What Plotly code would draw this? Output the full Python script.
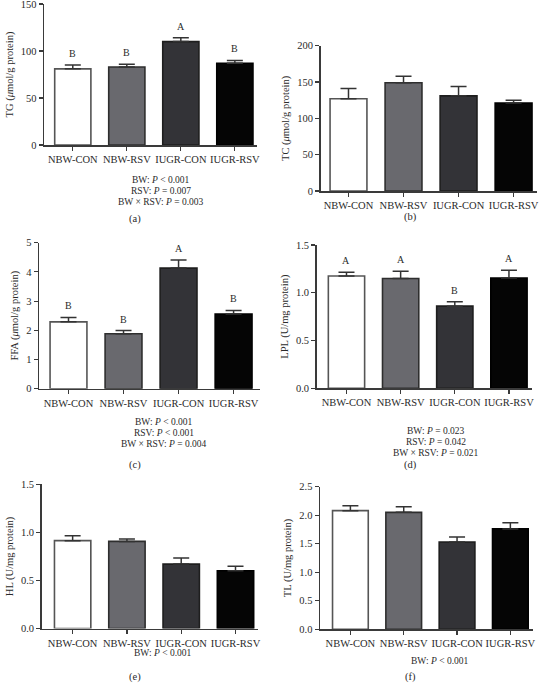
import plotly.graph_objects as go

W, H = 541, 686

categories = ["NBW-CON", "NBW-RSV", "IUGR-CON", "IUGR-RSV"]

# Panel (a) TG
tg_mean = [81, 83, 110, 87]
tg_err = [4, 3, 4, 3]
tg_letters = ["B", "B", "A", "B"]
tg_ticks = [0, 50, 100, 150]

# Panel (b) TC
tc_mean = [127, 149, 131, 121]
tc_err = [14, 9, 13, 4]
tc_letters = ["", "", "", ""]
tc_ticks = [0, 50, 100, 150, 200]

# Panel (c) FFA
ffa_mean = [2.29, 1.88, 4.13, 2.56]
ffa_err = [0.15, 0.11, 0.28, 0.12]
ffa_letters = ["B", "B", "A", "B"]
ffa_ticks = [0, 1, 2, 3, 4, 5]

# Panel (d) LPL
lpl_mean = [1.175, 1.15, 0.86, 1.155]
lpl_err = [0.04, 0.075, 0.045, 0.08]
lpl_letters = ["A", "A", "B", "A"]
lpl_ticks = [0.0, 0.5, 1.0, 1.5]

# Panel (e) HL
hl_mean = [0.914, 0.906, 0.67, 0.60]
hl_err = [0.052, 0.025, 0.063, 0.047]
hl_letters = ["", "", "", ""]
hl_ticks = [0.0, 0.5, 1.0, 1.5]

# Panel (f) TL
tl_mean = [2.08, 2.05, 1.53, 1.76]
tl_err = [0.085, 0.10, 0.09, 0.11]
tl_letters = ["", "", "", ""]
tl_ticks = [0.0, 0.5, 1.0, 1.5, 2.0, 2.5]

ytitles = [
    "TG (<i>μ</i>mol/g protein)",
    "TC (<i>μ</i>mol/g protein)",
    "FFA (<i>μ</i>mol/g protein)",
    "LPL (U/mg protein)",
    "HL (U/mg protein)",
    "TL (U/mg protein)",
]
stats = [
    ["BW: <i>P</i> < 0.001", "RSV: <i>P</i> = 0.007", "BW × RSV: <i>P</i> = 0.003"],
    [],
    ["BW: <i>P</i> < 0.001", "RSV: <i>P</i> < 0.001", "BW × RSV: <i>P</i> = 0.004"],
    ["BW: <i>P</i> = 0.023", "RSV: <i>P</i> = 0.042", "BW × RSV: <i>P</i> = 0.021"],
    ["BW: <i>P</i> < 0.001"],
    ["BW: <i>P</i> < 0.001"],
]
captions = ["(a)", "(b)", "(c)", "(d)", "(e)", "(f)"]

panels = [
    (tg_mean, tg_err, tg_letters, tg_ticks, "d"),
    (tc_mean, tc_err, tc_letters, tc_ticks, "d"),
    (ffa_mean, ffa_err, ffa_letters, ffa_ticks, "d"),
    (lpl_mean, lpl_err, lpl_letters, lpl_ticks, ".1f"),
    (hl_mean, hl_err, hl_letters, hl_ticks, ".1f"),
    (tl_mean, tl_err, tl_letters, tl_ticks, ".1f"),
]

# layout geometry in pixels: x_left, x_right, y_top, y_bottom, gapL, gapR
geom = [
    (44, 257, 4, 145, 0.533, 0.41),
    (320.7, 536.7, 45.7, 191, 0.505, 0.42),
    (39, 260, 242.7, 388.7, 0.536, 0.48),
    (316.7, 531.7, 245, 388.3, 0.55, 0.42),
    (41.7, 258.3, 484.3, 628.5, 0.57, 0.42),
    (320, 533.3, 486.7, 629.3, 0.57, 0.43),
]
stat_pos = [  # center x px, first line y px
    (161, 180), (432, 0), (164, 422), (436, 431), (163, 653), (440, 661)
]
cap_pos = [(135, 219), (410, 217), (135, 465), (410, 465), (135, 677), (410, 677)]

fills = ["#ffffff", "#69696e", "#333337", "#050505"]
lines = ["#555555", "#2e2e2e", "#1e1e1e", "#000000"]
axis_col = "#3a3a3a"
FONT = "Liberation Serif, Times New Roman, serif"

fig = go.Figure()
layout = dict(
    width=W, height=H,
    margin=dict(l=0, r=0, t=0, b=0, autoexpand=False),
    paper_bgcolor="white", plot_bgcolor="white",
    showlegend=False,
    font=dict(family=FONT, color="#2a2a2a", size=10),
)
annotations = []

for i, (mean, err, letters, ticks, fmt) in enumerate(panels):
    k = "" if i == 0 else str(i + 1)
    xl, xr, yt, yb, gl, gr = geom[i]
    xs = list(range(len(categories)))
    fig.add_trace(go.Bar(
        x=xs, y=mean, width=0.67,
        marker=dict(color=fills, line=dict(color=lines, width=1.6)),
        error_y=dict(type="data", symmetric=False, array=err,
                     arrayminus=[0] * len(err), color="#333333",
                     thickness=1.5, width=8),
        xaxis="x" + k, yaxis="y" + k, hoverinfo="skip",
    ))
    layout["xaxis" + k] = dict(
        domain=[xl / W, xr / W], anchor="y" + k,
        range=[-gl, len(categories) - 1 + gr],
        tickmode="array", tickvals=xs, ticktext=categories,
        showline=True, linecolor=axis_col, linewidth=1.5,
        ticks="outside", ticklen=4, tickwidth=1.2, tickcolor=axis_col,
        showgrid=False, zeroline=False, automargin=False,
        ticklabeloverflow="allow",
        tickfont=dict(family=FONT, size=10.5, color="#2a2a2a"),
        fixedrange=True,
    )
    layout["yaxis" + k] = dict(
        domain=[1 - yb / H, 1 - yt / H], anchor="x" + k,
        range=[0, ticks[-1]],
        tickmode="array", tickvals=ticks, tickformat=fmt,
        showline=True, linecolor=axis_col, linewidth=1.5,
        ticks="outside", ticklen=4, tickwidth=1.2, tickcolor=axis_col,
        showgrid=False, zeroline=False, automargin=False,
        ticklabeloverflow="allow",
        tickfont=dict(family=FONT, size=10.5, color="#2a2a2a"),
        title=dict(text=ytitles[i], standoff=5,
                   font=dict(family=FONT, size=10.5, color="#2a2a2a")),
        fixedrange=True,
    )
    for j, lt in enumerate(letters):
        if lt:
            annotations.append(dict(
                x=xs[j], y=mean[j] + err[j], xref="x" + k, yref="y" + k,
                text=lt, showarrow=False, yanchor="bottom", yshift=4,
                font=dict(family=FONT, size=10, color="#2a2a2a"),
            ))
    cx, cy = stat_pos[i]
    for m, line in enumerate(stats[i]):
        annotations.append(dict(
            x=cx / W, y=1 - (cy + 11 * m) / H, xref="paper", yref="paper",
            text=line, showarrow=False, xanchor="center", yanchor="middle",
            font=dict(family=FONT, size=9.5, color="#2a2a2a"),
        ))
    px, py = cap_pos[i]
    annotations.append(dict(
        x=px / W, y=1 - py / H, xref="paper", yref="paper",
        text=captions[i], showarrow=False, xanchor="center", yanchor="middle",
        font=dict(family=FONT, size=10.5, color="#2a2a2a"),
    ))

layout["annotations"] = annotations
fig.update_layout(**layout)
fig.write_html(
    "out.html",
    config={"displayModeBar": False, "staticPlot": True},
    post_script="document.body.style.margin='0px';document.body.style.overflow='hidden';",
)
